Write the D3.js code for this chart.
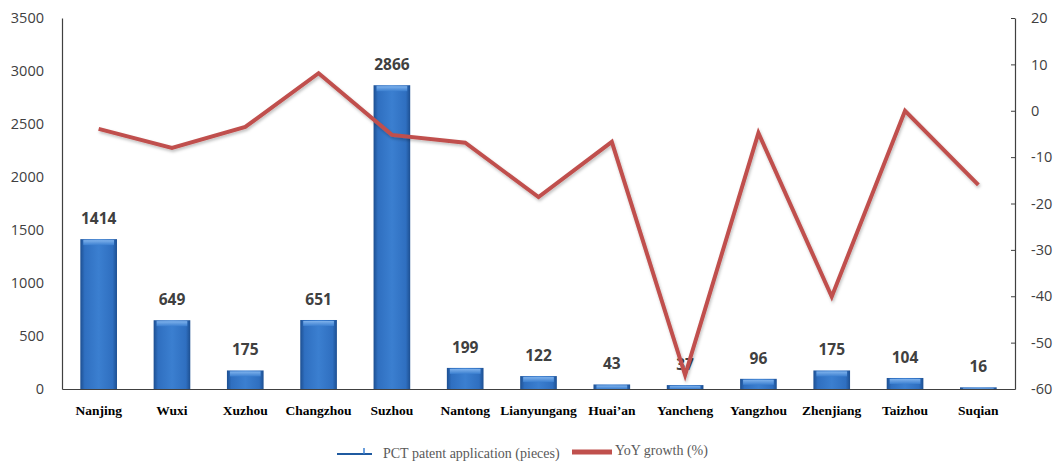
<!DOCTYPE html>
<html>
<head>
<meta charset="utf-8">
<script src="https://cdn.jsdelivr.net/npm/d3@7"></script>
<style>
  body { margin: 0; background: #fff; }
  svg { display: block; }
</style>
</head>
<body>
<svg id="chart" width="1057" height="464"></svg>
<script>
// data
var cities = ["Nanjing", "Wuxi", "Xuzhou", "Changzhou", "Suzhou", "Nantong", "Lianyungang",
  "Huai\u2019an", "Yancheng", "Yangzhou", "Zhenjiang", "Taizhou", "Suqian"];
var pctApps = [1414, 649, 175, 651, 2866, 199, 122, 43, 37, 96, 175, 104, 16];
var yoyGrowth = [-3.9, -8.0, -3.5, 8.1, -5.2, -6.9, -18.6, -6.7, -57, -4.8, -40.1, 0, -16];
var leftTicks = [0, 500, 1000, 1500, 2000, 2500, 3000, 3500];
var rightTicks = [-60, -50, -40, -30, -20, -10, 0, 10, 20];

var svg = d3.select("#chart");
var margin = {top: 18, right: 42, bottom: 75, left: 62};
var width = +svg.attr("width") - margin.left - margin.right;
var height = +svg.attr("height") - margin.top - margin.bottom;

var defs = svg.append("defs");
var grad = defs.append("linearGradient").attr("id", "barGrad")
  .attr("x1", "0%").attr("x2", "100%").attr("y1", "0%").attr("y2", "0%");
grad.append("stop").attr("offset", "0%").attr("stop-color", "#1d4f91");
grad.append("stop").attr("offset", "12%").attr("stop-color", "#2f6fc0");
grad.append("stop").attr("offset", "50%").attr("stop-color", "#3b7fd0");
grad.append("stop").attr("offset", "88%").attr("stop-color", "#2f6fc0");
grad.append("stop").attr("offset", "100%").attr("stop-color", "#1d4f91");
var topGrad = defs.append("linearGradient").attr("id", "topGrad")
  .attr("x1", "0%").attr("x2", "0%").attr("y1", "0%").attr("y2", "100%");
topGrad.append("stop").attr("offset", "0%").attr("stop-color", "#7fb2ec");
topGrad.append("stop").attr("offset", "100%").attr("stop-color", "#3b7fd0");
var shadow = defs.append("filter").attr("id", "lineShadow")
  .attr("x", "-5%").attr("y", "-5%").attr("width", "110%").attr("height", "120%");
shadow.append("feDropShadow").attr("dx", 1).attr("dy", 2).attr("stdDeviation", 1.5)
  .attr("flood-color", "#000").attr("flood-opacity", 0.25);

var g = svg.append("g").attr("transform", "translate(" + margin.left + "," + margin.top + ")");

var x = d3.scaleBand().domain(cities).range([0, width]).paddingInner(0.5).paddingOuter(0.25);
var yLeft = d3.scaleLinear().domain([0, 3500]).range([height, 0]);
var yRight = d3.scaleLinear().domain([-60, 20]).range([height, 0]);

// axes
var leftAxis = d3.axisLeft(yLeft).tickValues(leftTicks).tickFormat(String).tickSize(0).tickPadding(18);
var gl = g.append("g").call(leftAxis);
gl.select(".domain").attr("stroke", "#404040").attr("stroke-width", 1.2);

var rightAxis = d3.axisRight(yRight).tickValues(rightTicks).tickFormat(String)
  .tickSizeInner(-4).tickSizeOuter(0).tickPadding(16);
var gr = g.append("g").attr("transform", "translate(" + width + ",0)").call(rightAxis);
gr.select(".domain").attr("stroke", "#404040").attr("stroke-width", 1.2);
gr.selectAll(".tick line").attr("stroke", "#404040");

[gl, gr].forEach(function(a) {
  a.selectAll("text").attr("font-family", "'Open Sans', sans-serif").attr("font-size", 14.5)
    .attr("fill", "#404040");
});

var bottomAxis = d3.axisBottom(x).tickSize(0).tickPadding(16);
var gb = g.append("g").attr("transform", "translate(0," + height + ")").call(bottomAxis);
gb.select(".domain").attr("stroke", "#404040").attr("stroke-width", 1.2);
gb.selectAll("text").attr("font-family", "'Liberation Serif', serif").attr("font-weight", "bold")
  .attr("font-size", 13.5).attr("fill", "#000");

// bars
var bars = g.append("g").selectAll("g.bar").data(pctApps).enter().append("g").attr("class", "bar");
bars.append("rect")
  .attr("x", function(d, i) { return x(cities[i]); })
  .attr("y", function(d) { return yLeft(d); })
  .attr("width", x.bandwidth())
  .attr("height", function(d) { return height - yLeft(d); })
  .attr("fill", "url(#barGrad)");
bars.append("rect")
  .attr("x", function(d, i) { return x(cities[i]) + 3; })
  .attr("y", function(d) { return yLeft(d) + 1; })
  .attr("width", x.bandwidth() - 6)
  .attr("height", function(d) { return Math.min(5, height - yLeft(d) - 1); })
  .attr("fill", "url(#topGrad)");

// value labels
g.append("g").selectAll("text").data(pctApps).enter().append("text")
  .attr("x", function(d, i) { return x(cities[i]) + x.bandwidth() / 2; })
  .attr("y", function(d) { return yLeft(d) - 15; })
  .attr("text-anchor", "middle")
  .attr("font-family", "'Open Sans', sans-serif").attr("font-weight", "bold")
  .attr("font-size", 15.5).attr("fill", "#404040")
  .text(function(d) { return d; });

// growth line
var line = d3.line()
  .x(function(d, i) { return x(cities[i]) + x.bandwidth() / 2; })
  .y(function(d) { return yRight(d); });
g.append("path").datum(yoyGrowth)
  .attr("d", line)
  .attr("fill", "none")
  .attr("stroke", "#c0504d")
  .attr("stroke-width", 4)
  .attr("stroke-linejoin", "miter")
  .attr("filter", "url(#lineShadow)");

// legend
var lg = svg.append("g").attr("transform", "translate(0,454)");
lg.append("line").attr("x1", 337).attr("x2", 372).attr("y1", 0).attr("y2", 0)
  .attr("stroke", "#1f5aa0").attr("stroke-width", 2);
lg.append("line").attr("x1", 364).attr("x2", 364).attr("y1", 0).attr("y2", -6)
  .attr("stroke", "#3b7fd0").attr("stroke-width", 1.5);
lg.append("text").attr("x", 383).attr("y", 4)
  .attr("font-family", "'Liberation Serif', serif").attr("font-size", 14).attr("fill", "#595959")
  .text("PCT patent application (pieces)");
lg.append("line").attr("x1", 572).attr("x2", 612).attr("y1", -2).attr("y2", -2)
  .attr("stroke", "#c0504d").attr("stroke-width", 5);
lg.append("text").attr("x", 615).attr("y", 1)
  .attr("font-family", "'Liberation Serif', serif").attr("font-size", 14).attr("fill", "#595959")
  .text("YoY growth (%)");
</script>
</body>
</html>
